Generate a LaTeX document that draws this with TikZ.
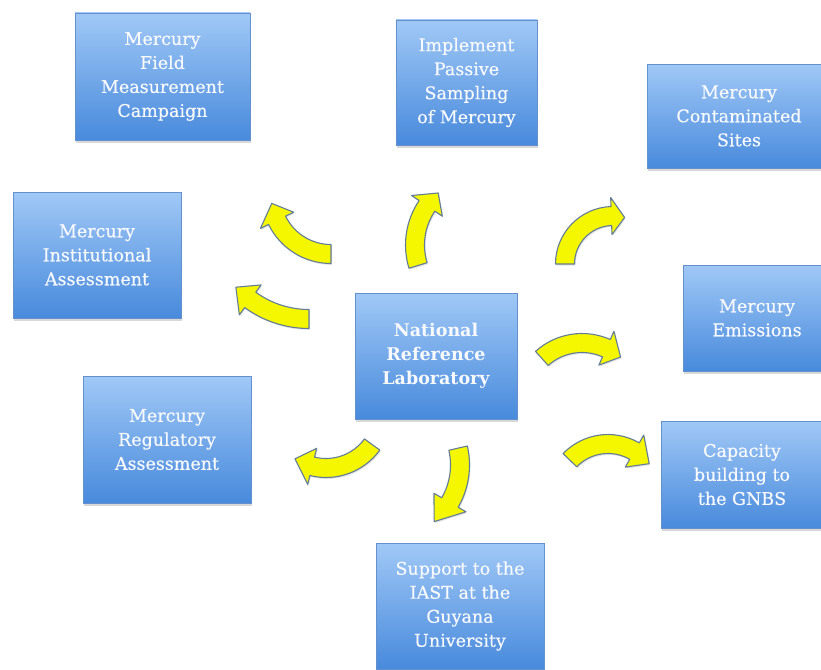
\documentclass[tikz,border=0pt]{standalone}
\usepackage{fontspec}
\setmainfont{DejaVu Serif}
\newfontfamily\boxfont[FakeBold=0.35]{DejaVu Serif}
\usetikzlibrary{shadows}
\definecolor{boxtop}{RGB}{160,200,246}
\definecolor{boxbot}{RGB}{72,138,220}
\definecolor{boxline}{RGB}{100,145,205}
\definecolor{arrfill}{RGB}{245,247,0}
\definecolor{arrline}{RGB}{100,125,150}
\definecolor{boxtext}{RGB}{248,250,255}
\tikzset{
  box/.style={draw=boxline, line width=0.8pt, top color=boxtop, bottom color=boxbot,
    text=boxtext, align=center, inner sep=0pt,
    font=\boxfont\fontsize{17.5}{24}\selectfont,
    drop shadow={shadow xshift=1pt, shadow yshift=-2.5pt, opacity=0.3}},
  yarr/.style={fill=arrfill, draw=arrline, line width=1.1pt, line join=round,
    drop shadow={shadow xshift=1pt, shadow yshift=-1.5pt, opacity=0.2}}
}
% centre x, centre y, radius, tail angle, head-base angle, tip angle
\newcommand\yarrowshape[6]{%
  \begin{scope}[shift={(#1,#2)}]
    \path[yarr] (#4:#3+9.5) arc[start angle=#4, end angle=#5, radius=#3+9.5]
      -- (#5:#3+18.5) -- (#6:#3) -- (#5:#3-18.5) -- (#5:#3-9.5)
      arc[start angle=#5, end angle=#4, radius=#3-9.5] -- cycle;
  \end{scope}}
\begin{document}
\begin{tikzpicture}[x=1pt,y=-1pt]
\useasboundingbox[fill=white] (0,0) rectangle (821,669);

\node[box, minimum width=175pt, minimum height=127pt] (fmc) at (162.5,76.5) {Mercury\\Field\\Measurement\\Campaign};
\node[box, minimum width=141pt, minimum height=125pt] (ips) at (466.5,82.5) {Implement\\Passive\\Sampling\\of Mercury};
\node[box, minimum width=184pt, minimum height=104pt] (mcs) at (739,116) {Mercury\\Contaminated\\Sites};
\node[box, minimum width=168pt, minimum height=126pt] (mia) at (97,255) {Mercury\\Institutional\\Assessment};
\node[box, minimum width=162pt, minimum height=126pt, font=\fontsize{17.5}{24}\selectfont\bfseries] (nrl) at (436,356) {National\\Reference\\Laboratory};
\node[box, minimum width=148pt, minimum height=106pt] (me) at (757,318) {Mercury\\Emissions};
\node[box, minimum width=168pt, minimum height=127pt] (mra) at (167,439.5) {Mercury\\Regulatory\\Assessment};
\node[box, minimum width=162pt, minimum height=107pt] (cb) at (742,474.5) {Capacity\\building to\\the GNBS};
\node[box, minimum width=168pt, minimum height=126pt] (sup) at (460,606) {Support to the\\IAST at the\\Guyana\\University};

\yarrowshape{331}{194}{60}{90}{154}{171}
\yarrowshape{309}{219}{100}{90}{126}{137}
\yarrowshape{485}{245}{70}{163}{214}{228}
\yarrowshape{613}{264}{48}{180}{268}{284}
\yarrowshape{582}{403}{60}{228}{294}{310}
\yarrowshape{608}{497}{53}{224}{300}{321}
\yarrowshape{326}{411}{57}{36}{104}{123}
\yarrowshape{385}{465}{75}{-13}{30}{49}
\end{tikzpicture}
\end{document}
